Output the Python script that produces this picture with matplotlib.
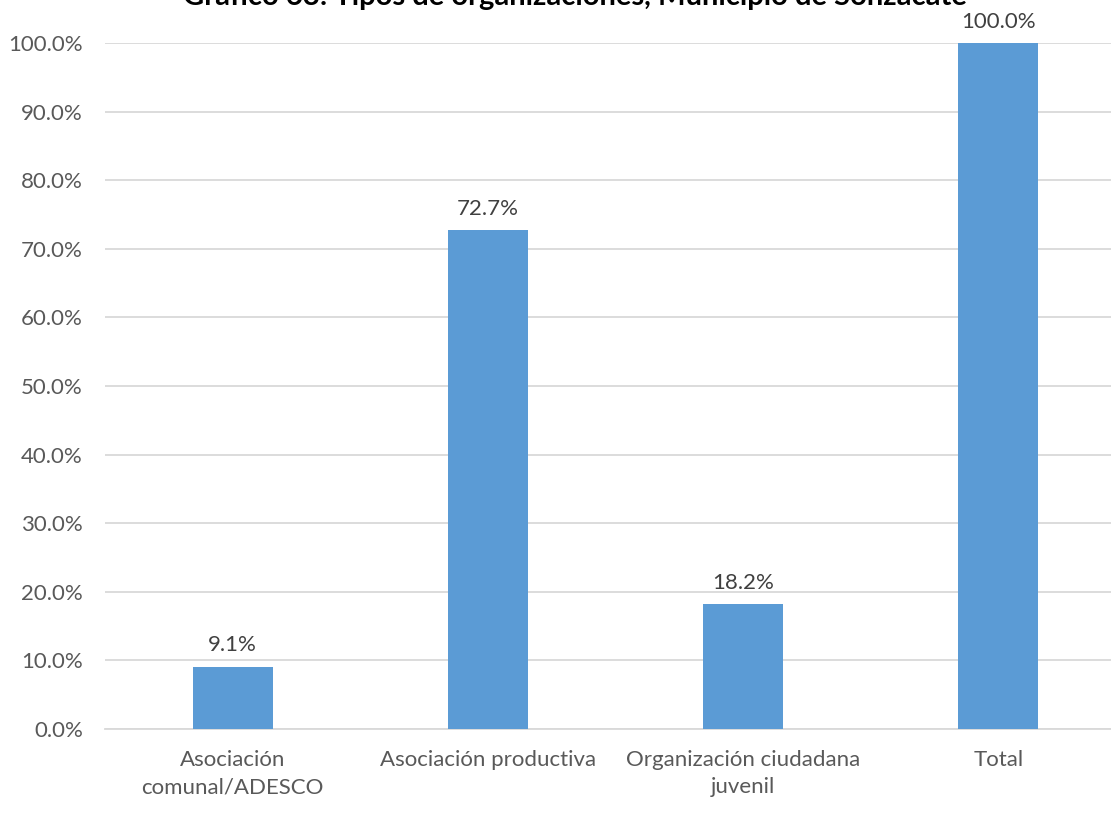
import matplotlib.pyplot as plt

# datos del gráfico
categorias = ['Asociación\ncomunal/ADESCO', 'Asociación productiva',
              'Organización ciudadana\njuvenil', 'Total']
porcentajes = [9.1, 72.7, 18.2, 100.0]
ticks_y = [0, 10, 20, 30, 40, 50, 60, 70, 80, 90, 100]
titulo = 'Gráfico 63: Tipos de organizaciones, Municipio de Sonzacate'

plt.rcParams['font.family'] = ['Lato', 'DejaVu Sans']

fig = plt.figure(figsize=(11.11, 8.17), dpi=100)
ax = fig.add_axes([105 / 1111, 88 / 817, 1021 / 1111, 686 / 817])

x = range(len(categorias))
barras = ax.bar(x, porcentajes, width=80 / 255.5, color='#5B9BD5', zorder=3)

for xi, v in zip(x, porcentajes):
    ax.annotate(f'{v:.1f}%', (xi, v), xytext=(0, 8), textcoords='offset points',
                ha='center', va='bottom', fontsize=16, color='#404040')

ax.set_xlim(-0.5, len(categorias) - 0.5)
ax.set_ylim(0, 100)
ax.set_yticks(ticks_y)
ax.set_yticklabels([f'{t:.1f}%' for t in ticks_y])
ax.set_xticks(list(x))
ax.set_xticklabels(categorias, linespacing=1.45)
ax.tick_params(axis='both', length=0, labelsize=16, labelcolor='#595959')
ax.tick_params(axis='y', pad=16)
ax.tick_params(axis='x', pad=15)
ax.grid(axis='y', color='#D9D9D9', linewidth=1.3, zorder=0)
for s in ['top', 'right', 'left']:
    ax.spines[s].set_visible(False)
ax.spines['bottom'].set_color('#D9D9D9')
ax.spines['bottom'].set_linewidth(1.3)

fig.text(575 / 1111, 1 - 5 / 817, titulo, ha='center', va='baseline',
         fontsize=21, fontweight='bold', color='black')

fig.savefig('out.png', dpi=100)
